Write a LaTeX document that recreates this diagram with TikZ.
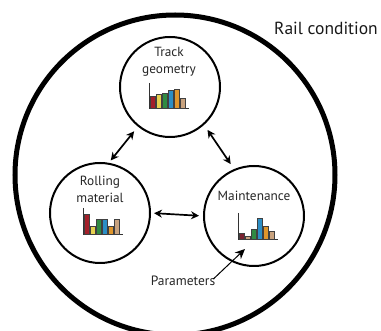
\documentclass[tikz,border=0pt]{standalone}
\usepackage{fontspec}
\setmainfont{PT Sans}
\usetikzlibrary{arrows.meta}
\definecolor{cred}{HTML}{A3202A}
\definecolor{cmaroon}{HTML}{7A2230}
\definecolor{cyel}{HTML}{E6D14F}
\definecolor{cgreen}{HTML}{2F8A42}
\definecolor{cblue}{HTML}{2C8EC4}
\definecolor{corange}{HTML}{E0962B}
\definecolor{ctan}{HTML}{C8A27E}
\newcommand{\mychart}[4]{%
  \draw[line width=0.8pt, black!80] (#1,#2-#3) -- (#1,#2) -- (#1+40,#2);
  \foreach \c/\h [count=\i] in {#4} {
    \filldraw[fill=\c, draw=black!75, line width=0.45pt] (#1+1.5+6*\i-6, #2) rectangle ++(4.3,-\h);
  }
}
\begin{document}
\begin{tikzpicture}[x=1pt,y=-1pt,
  big/.style={draw, line width=5pt, circle, minimum size=320pt, inner sep=0pt},
  small/.style={draw, line width=2pt, circle, minimum size=100pt, inner sep=0pt},
  lbl/.style={font=\fontsize{13.3}{17}\selectfont, align=center, inner sep=0pt, text=black!85},
  conn/.style={line width=1.7pt, {Stealth[length=8pt,width=8pt]}-{Stealth[length=8pt,width=8pt]}},
]
\useasboundingbox (0,0) rectangle (381,331);
\node[big] (B) at (175,175) {};
\node[small] (T) at (170,87) {};
\node[small] (R) at (100,213) {};
\node[small] (M) at (254,216) {};
\node[lbl] (Tl) at (169,62) {Track\\geometry};
\node[lbl] (Rl) at (100,189) {Rolling\\material};
\node[lbl] (Ml) at (254,196) {Maintenance};
\node[font=\fontsize{17.5}{19}\selectfont, inner sep=0pt, text=black!90] (RC) at (326,28) {Rail condition};
\node[font=\fontsize{13.5}{15}\selectfont, inner sep=0pt, text=black!85] (P) at (183,281) {Parameters};
\coordinate (Ptip) at (245,249);
\mychart{149}{108}{25}{cred/12,cyel/14,cgreen/15,cblue/18,corange/19,ctan/10}
\mychart{83}{234}{26}{cred/20,cyel/8,cgreen/15,cblue/15,corange/8,ctan/15}
\mychart{238}{239}{26}{cmaroon/6,ctan/3,cgreen/10,cblue/21,corange/13,ctan/8}
\draw[conn, shorten <=6pt, shorten >=3pt] (T.231) -- (R.80);
\draw[conn, shorten <=6pt, shorten >=6pt] (T.312) -- (M.113);
\draw[conn, shorten <=3pt, shorten >=4pt] (R.east) -- (M.west);
\draw[line width=1pt, -{Stealth[length=10pt,width=9pt]}] ([xshift=-2pt,yshift=-3pt]P.north east) -- (Ptip);
\end{tikzpicture}
\end{document}
